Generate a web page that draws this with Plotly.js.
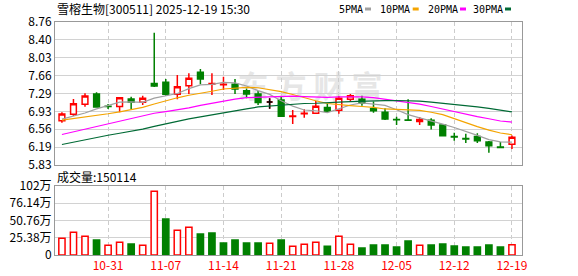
<!DOCTYPE html>
<html><head><meta charset="utf-8">
<script src="https://cdn.plot.ly/plotly-3.0.1.min.js"></script>
<style>html,body{margin:0;padding:0;background:#fff;}#chart{width:578px;height:276px;}</style>
</head><body><div id="chart"></div>
<script>
// ---- data ----
const dates = ['10-27','10-28','10-29','10-30','10-31','11-03','11-04','11-05','11-06','11-07',
  '11-10','11-11','11-12','11-13','11-14','11-17','11-18','11-19','11-20','11-21',
  '11-24','11-25','11-26','11-27','11-28','12-01','12-02','12-03','12-04','12-05',
  '12-08','12-09','12-10','12-11','12-12','12-15','12-16','12-17','12-18','12-19'];
const openP = [6.738,6.868,7.073,7.285,7.035,7.030,7.182,7.114,7.500,7.524,
  7.278,7.455,7.729,7.490,7.475,7.483,7.352,7.285,7.120,7.162,
  6.825,6.880,6.890,7.008,6.950,7.176,7.178,6.983,6.910,6.762,
  6.752,6.721,6.746,6.650,6.415,6.372,6.414,6.301,6.197,6.254];
const highP = [6.909,7.180,7.299,7.319,7.080,7.217,7.230,7.250,8.540,7.592,
  7.674,7.708,7.797,7.708,7.640,7.592,7.400,7.346,7.196,7.223,
  6.957,6.971,7.140,7.090,7.244,7.285,7.250,7.130,6.992,6.820,
  7.176,6.813,6.787,6.664,6.490,6.469,6.479,6.320,6.300,6.434];
const lowP = [6.696,6.834,7.024,7.015,6.977,6.909,6.971,7.060,7.430,7.250,
  7.176,7.285,7.483,7.264,7.367,7.285,7.196,7.060,6.980,6.820,
  6.670,6.799,6.880,6.906,6.880,7.131,7.043,6.899,6.752,6.650,
  6.738,6.650,6.557,6.424,6.327,6.280,6.280,6.082,6.185,6.158];
const closeP = [6.875,7.086,7.244,7.020,7.030,7.209,7.114,7.200,7.450,7.278,
  7.434,7.606,7.592,7.500,7.483,7.387,7.285,7.110,7.120,6.828,
  6.835,6.890,7.033,6.930,7.200,7.248,7.100,6.940,6.772,6.755,
  6.748,6.762,6.650,6.430,6.405,6.365,6.328,6.223,6.190,6.397];
// volume in 万手
const volume = [24.5,33.4,27.5,22.1,14.2,18.6,16.2,14.2,93.7,53.0,
  36.3,40.7,30.9,32.4,17.7,22.1,17.7,17.7,17.2,22.1,
  12.7,15.7,18.6,12.7,27.5,15.7,10.3,14.7,14.7,11.8,
  20.6,14.2,14.7,16.2,13.2,11.8,11.8,14.7,11.8,15.0114];
const ma5 = [6.77,6.83,6.895,6.98,7.051,7.118,7.123,7.115,7.201,7.250,
  7.295,7.394,7.472,7.482,7.523,7.514,7.449,7.353,7.277,7.146,
  7.036,6.957,6.941,6.903,6.978,7.060,7.102,7.084,7.052,6.963,
  6.863,6.795,6.737,6.669,6.599,6.522,6.436,6.350,6.302,6.300];
const ma10 = [6.75,6.78,6.82,6.85,6.88,6.92,6.96,7.01,7.08,7.151,
  7.207,7.259,7.293,7.341,7.387,7.404,7.422,7.413,7.380,7.335,
  7.275,7.203,7.147,7.090,7.062,7.048,7.029,7.012,6.978,6.970,
  6.962,6.949,6.911,6.861,6.781,6.693,6.616,6.544,6.486,6.450];
const ma20 = [6.455,6.51,6.56,6.615,6.67,6.73,6.79,6.85,6.89,6.925,
  6.955,7.00,7.05,7.095,7.14,7.18,7.21,7.22,7.23,7.243,
  7.241,7.231,7.220,7.216,7.224,7.226,7.225,7.212,7.179,7.152,
  7.118,7.076,7.029,6.975,6.921,6.870,6.822,6.778,6.732,6.710];
const ma30 = [6.25,6.30,6.35,6.39,6.44,6.48,6.52,6.565,6.62,6.67,
  6.735,6.775,6.815,6.86,6.90,6.935,6.98,7.02,7.04,7.06,
  7.08,7.09,7.095,7.10,7.12,7.13,7.14,7.145,7.15,7.152,
  7.148,7.137,7.117,7.097,7.076,7.048,7.022,6.990,6.948,6.918];
const maNames = ['5PMA','10PMA','20PMA','30PMA'];
const dateTicks = ['10-31','11-07','11-14','11-21','11-28','12-05','12-12','12-19'];
const priceTickText = ['5.83','6.19','6.56','6.93','7.29','7.66','8.03','8.40','8.76'];
const volTickText = ['0','25.38万','50.76万','76.14万','102万'];
const priceMin = 5.83, priceMax = 8.76, volMax = 101.52;
const stockTitle = '雪榕生物[300511] 2025-12-19 15:30';

// ---- styling ----
const RED = '#ff0000', GREEN = '#008000';
const maColors = ['#a0a0a0', '#f4a400', '#ff00ff', '#006a35'];
const FONT = 'Noto Sans CJK SC, sans-serif';
const MONO = 'DejaVu Sans Mono, monospace';
const L = 55, R = 522, T = 22, B = 255;
const pxX = X => (X - L) / (R - L);
const pxY = Y => (B - Y) / (B - T);

const priceTickVals = priceTickText.map((_, k) => priceMin + k * (priceMax - priceMin) / (priceTickText.length - 1));
const volTickVals = volTickText.map((_, k) => k * volMax / (volTickText.length - 1));

const up = closeP.map((c, i) => i === 0 ? c >= openP[0] : c > closeP[i - 1]);
const dojiIdx = openP.map((o, i) => o === closeP[i] ? i : -1).filter(i => i >= 0);

const traces = [
  {
    type: 'candlestick', x: dates, open: openP, high: highP, low: lowP, close: closeP,
    xaxis: 'x', yaxis: 'y', whiskerwidth: 0, hoverinfo: 'skip', showlegend: false,
    increasing: {line: {color: RED, width: 1.5}, fillcolor: '#ffffff'},
    decreasing: {line: {color: GREEN, width: 1.5}, fillcolor: GREEN}
  },
  {
    type: 'candlestick', x: dojiIdx.map(i => dates[i]), open: dojiIdx.map(i => openP[i]),
    high: dojiIdx.map(i => highP[i]), low: dojiIdx.map(i => lowP[i]), close: dojiIdx.map(i => closeP[i]),
    xaxis: 'x', yaxis: 'y', whiskerwidth: 0, hoverinfo: 'skip', showlegend: false,
    increasing: {line: {color: '#000000', width: 1.5}, fillcolor: '#000000'},
    decreasing: {line: {color: '#000000', width: 1.5}, fillcolor: '#000000'}
  }
];
[ma5, ma10, ma20, ma30].forEach((m, k) => traces.push({
  type: 'scatter', mode: 'lines', x: dates, y: m, xaxis: 'x', yaxis: 'y',
  line: {color: maColors[k], width: 1.2}, hoverinfo: 'skip', showlegend: false
}));
traces.push({
  type: 'bar', x: dates, y: volume, xaxis: 'x2', yaxis: 'y2', width: 0.54,
  marker: {color: up.map(u => u ? '#ffffff' : GREEN), line: {color: up.map(u => u ? RED : GREEN), width: 1.5}},
  hoverinfo: 'skip', showlegend: false
});

const xBase = {
  type: 'category', range: [-0.6, 39.87], tickmode: 'array', tickvals: dateTicks,
  showgrid: true, gridcolor: '#cccccc', griddash: '4px,3px', gridwidth: 1,
  showline: true, linecolor: '#999999', linewidth: 1, mirror: true, zeroline: false, ticks: '',
  fixedrange: true
};
const yBase = {
  showgrid: true, gridcolor: '#d2d2d2', gridwidth: 1, showline: true, linecolor: '#999999',
  linewidth: 1, mirror: true, zeroline: false, ticks: '', tickmode: 'array',
  tickfont: {family: FONT, size: 12, color: '#000'}, fixedrange: true
};

const annotations = [
  {text: stockTitle, xref: 'paper', yref: 'paper', x: 0, y: pxY(9), xanchor: 'left', yanchor: 'middle',
   showarrow: false, font: {family: FONT, size: 12, color: '#000'}},
  {text: '成交量:' + Math.round(volume[volume.length - 1] * 10000), xref: 'paper', yref: 'paper', x: 0, y: pxY(176.5),
   xanchor: 'left', yanchor: 'middle', showarrow: false, font: {family: FONT, size: 12, color: '#000'}}
];
const legendSq = [365, 412.7, 460, 505];
const shapes = [
  {type: 'rect', xref: 'paper', yref: 'paper', x0: pxX(232), x1: pxX(388), y0: pxY(106), y1: pxY(72),
   line: {width: 0}, fillcolor: 'rgba(0,0,0,0)', layer: 'below',
   label: {text: '东 方 财 富', textposition: 'middle center', font: {family: FONT, size: 31, color: '#e6e6e6', weight: 700}}}
];
maNames.forEach((n, k) => {
  annotations.push({text: n, xref: 'paper', yref: 'paper', x: pxX(legendSq[k] - 0.5), y: pxY(9.5),
    xanchor: 'right', yanchor: 'middle', showarrow: false, font: {family: MONO, size: 10, color: '#000'}});
  shapes.push({type: 'rect', xref: 'paper', yref: 'paper', x0: pxX(legendSq[k]), x1: pxX(legendSq[k] + 6),
    y0: pxY(10.5), y1: pxY(7.5), line: {width: 0}, fillcolor: maColors[k]});
});

const layout = {
  width: 578, height: 276, margin: {l: L, r: 578 - R, t: T, b: 276 - B},
  paper_bgcolor: '#ffffff', plot_bgcolor: 'rgba(0,0,0,0)',
  font: {family: FONT, size: 12, color: '#000'},
  showlegend: false, boxgap: 0.5, boxgroupgap: 0,
  xaxis: Object.assign({}, xBase, {anchor: 'y', showticklabels: false, rangeslider: {visible: false}}),
  xaxis2: Object.assign({}, xBase, {anchor: 'y2', showticklabels: true, tickfont: {family: FONT, size: 12, color: RED}}),
  yaxis: Object.assign({}, yBase, {domain: [pxY(165), 1], range: [priceMin, priceMax], tickvals: priceTickVals, ticktext: priceTickText}),
  yaxis2: Object.assign({}, yBase, {domain: [0, pxY(186)], range: [0, volMax], tickvals: volTickVals, ticktext: volTickText}),
  annotations: annotations, shapes: shapes
};

Plotly.newPlot('chart', traces, layout, {staticPlot: true, displayModeBar: false});
</script></body></html>
